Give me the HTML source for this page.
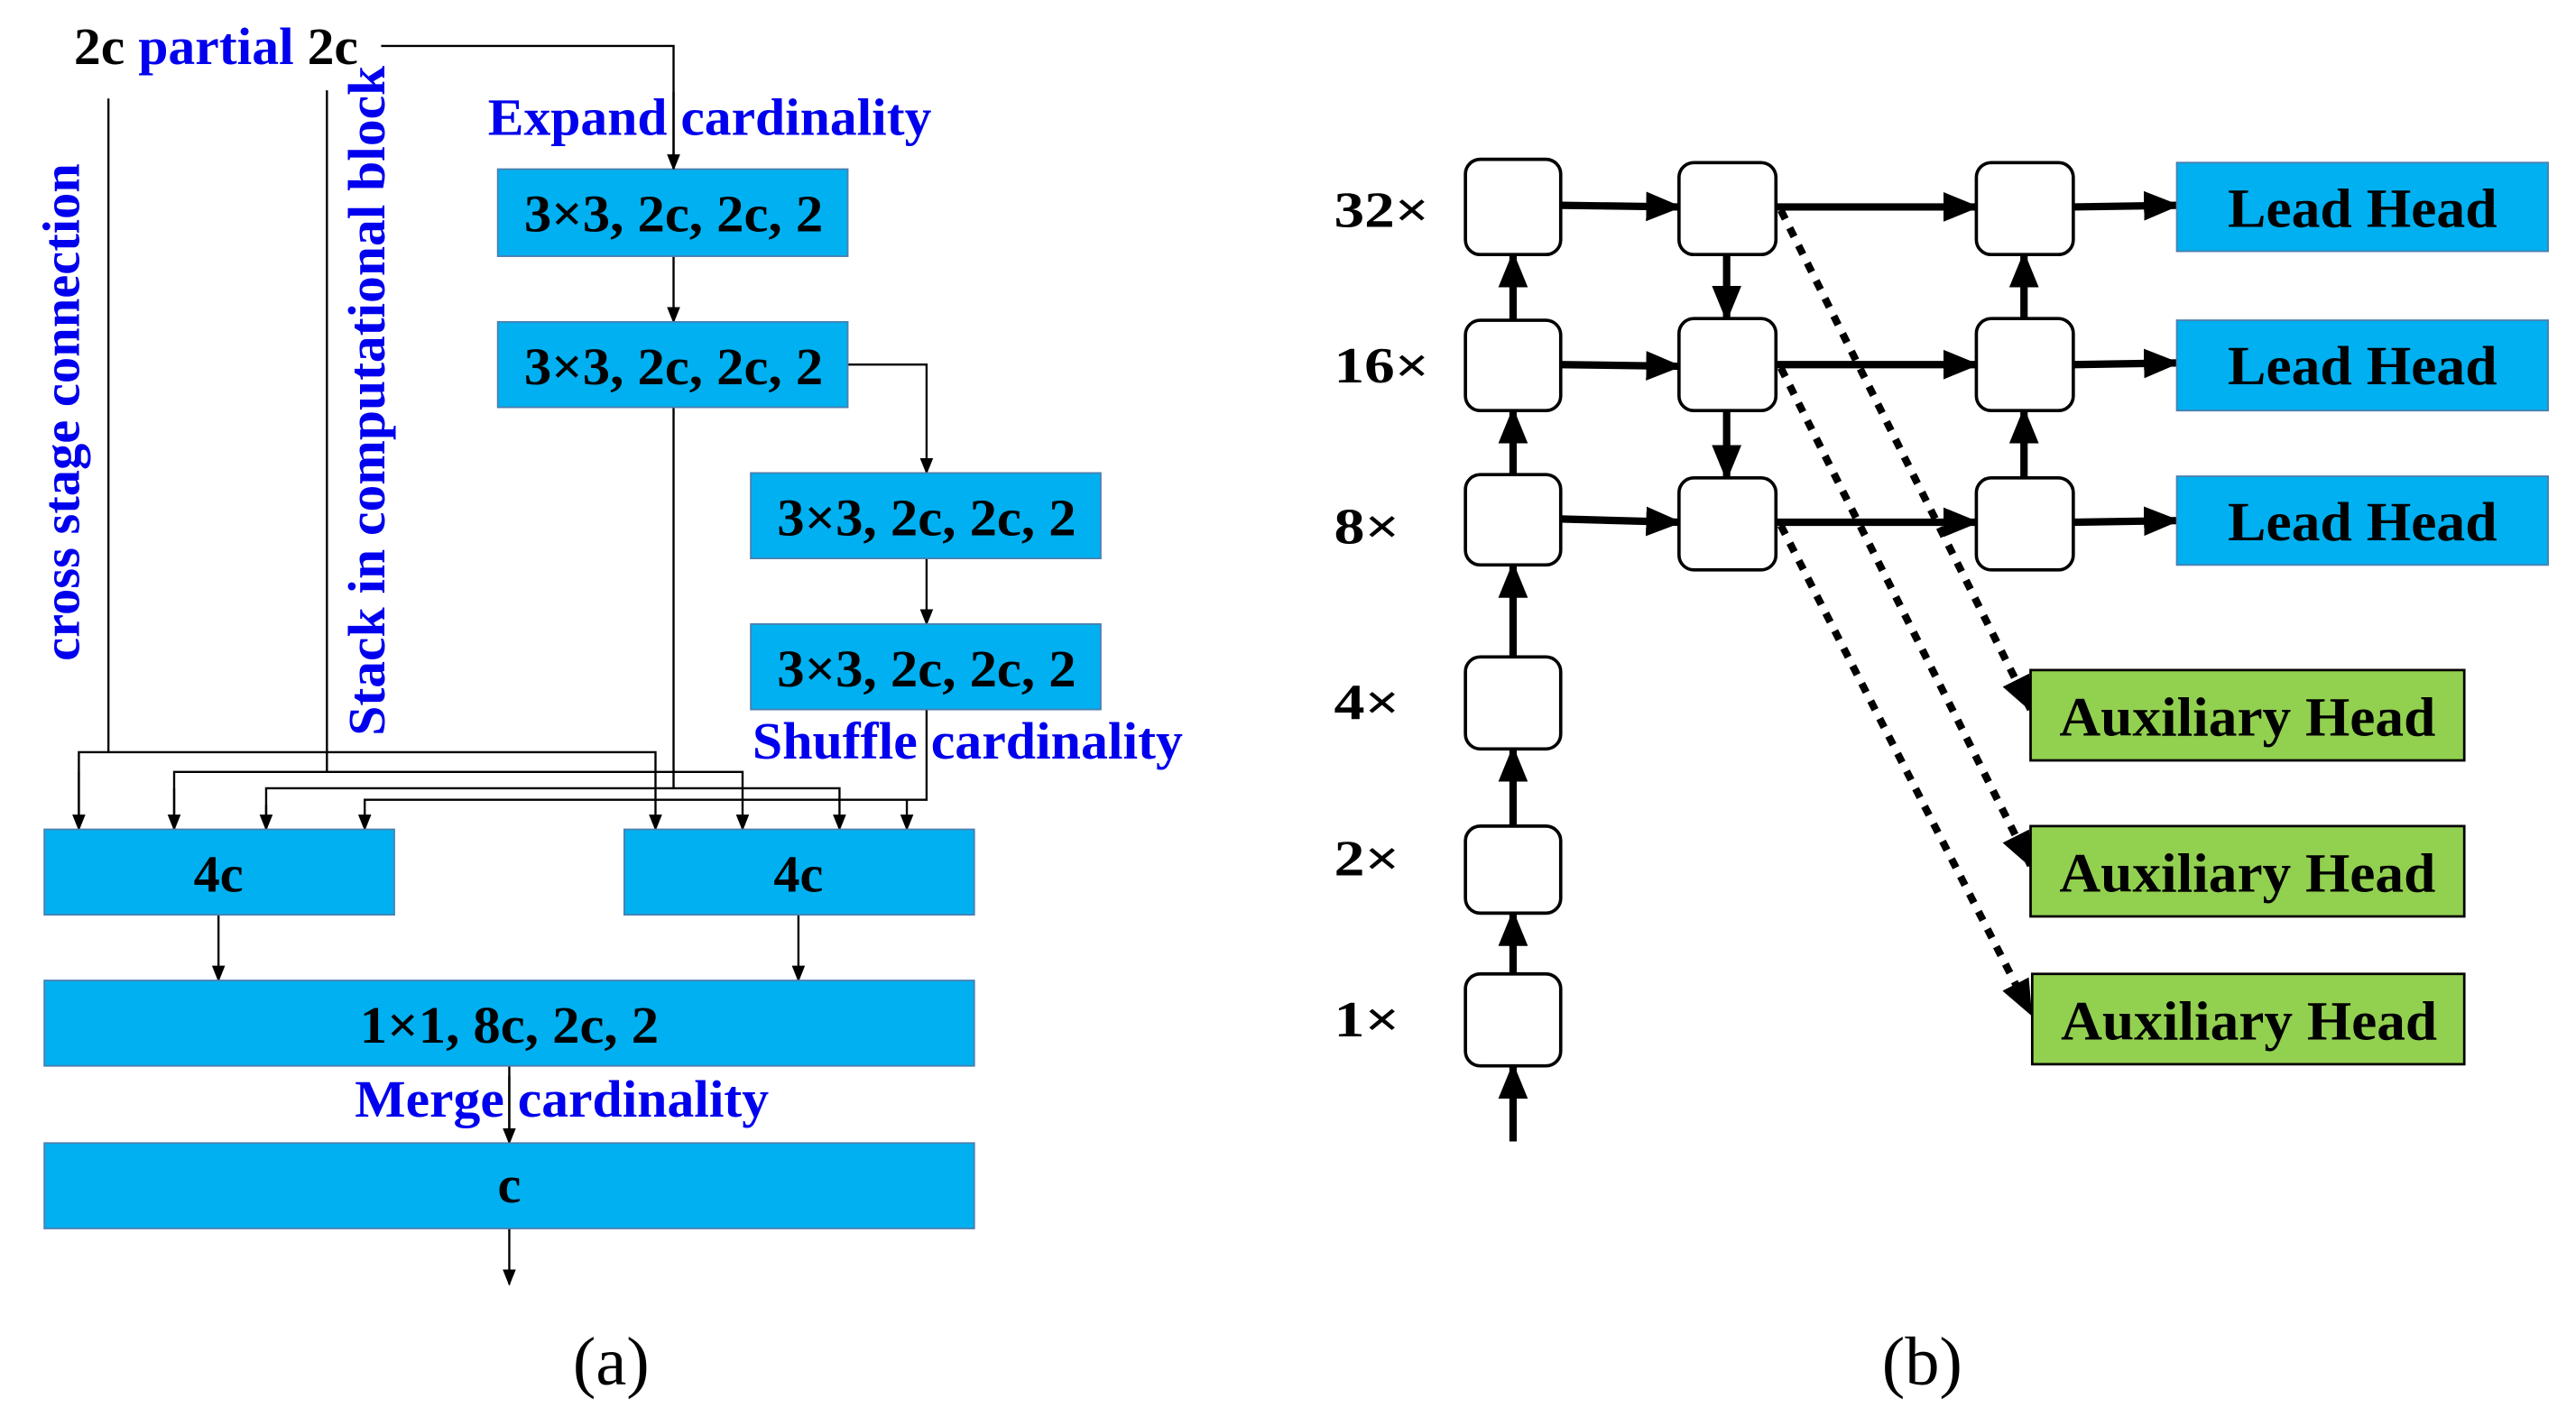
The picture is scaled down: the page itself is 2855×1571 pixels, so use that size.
<!DOCTYPE html>
<html><head><meta charset="utf-8"><style>
html,body{margin:0;padding:0;background:#fff;}
svg{display:block;}
text{font-family:"Liberation Serif",serif;font-weight:bold;}
</style></head><body>
<svg width="2855" height="1571" viewBox="0 0 1568 862.8" preserveAspectRatio="none" xmlns="http://www.w3.org/2000/svg">
<defs>
<marker id="a" markerWidth="10" markerHeight="10" refX="9" refY="5" orient="auto" markerUnits="userSpaceOnUse"><path d="M0,1 L10,5 L0,9 z" fill="#000"/></marker>
<marker id="b" markerWidth="22" markerHeight="22" refX="20" refY="11" orient="auto" markerUnits="userSpaceOnUse"><path d="M0,2 L22,11 L0,20 z" fill="#000"/></marker>
</defs>
<g fill="none" stroke="#000" stroke-width="1.3">
<polyline points="232,28 410,28 410,103" marker-end="url(#a)"/>
<line x1="410" y1="156" x2="410" y2="196" marker-end="url(#a)"/>
<polyline points="516,222 564,222 564,288" marker-end="url(#a)"/>
<line x1="564" y1="340" x2="564" y2="380" marker-end="url(#a)"/>
<line x1="66" y1="60" x2="66" y2="458"/>
<line x1="199" y1="55" x2="199" y2="470"/>
<line x1="410" y1="248" x2="410" y2="480"/>
<polyline points="564,432 564,487 552,487"/>
<polyline points="48,505 48,458 399,458 399,505" marker-end="url(#a)"/>
<line x1="48" y1="470" x2="48" y2="505" marker-end="url(#a)"/>
<polyline points="106,505 106,470 452,470 452,505" marker-end="url(#a)"/>
<line x1="106" y1="480" x2="106" y2="505" marker-end="url(#a)"/>
<polyline points="162,505 162,480 511,480 511,505" marker-end="url(#a)"/>
<line x1="162" y1="490" x2="162" y2="505" marker-end="url(#a)"/>
<polyline points="222,505 222,487 552,487 552,505" marker-end="url(#a)"/>
<line x1="222" y1="495" x2="222" y2="505" marker-end="url(#a)"/>
<line x1="133" y1="557" x2="133" y2="597" marker-end="url(#a)"/>
<line x1="486" y1="557" x2="486" y2="597" marker-end="url(#a)"/>
<line x1="310" y1="649" x2="310" y2="696" marker-end="url(#a)"/>
<line x1="310" y1="748" x2="310" y2="782" marker-end="url(#a)"/>
</g>
<g fill="#00B0F0" stroke="#4a7fb0" stroke-width="1">
<rect x="303" y="103" width="213" height="53"/>
<rect x="303" y="196" width="213" height="52"/>
<rect x="457" y="288" width="213" height="52"/>
<rect x="457" y="380" width="213" height="52"/>
<rect x="27" y="505" width="213" height="52"/>
<rect x="380" y="505" width="213" height="52"/>
<rect x="27" y="597" width="566" height="52"/>
<rect x="27" y="696" width="566" height="52"/>
</g>
<g font-size="32" text-anchor="middle" fill="#000" lengthAdjust="spacingAndGlyphs">
<text x="410" y="141" textLength="182" lengthAdjust="spacingAndGlyphs">3×3, 2c, 2c, 2</text>
<text x="410" y="234" textLength="182" lengthAdjust="spacingAndGlyphs">3×3, 2c, 2c, 2</text>
<text x="564" y="326" textLength="182" lengthAdjust="spacingAndGlyphs">3×3, 2c, 2c, 2</text>
<text x="564" y="418" textLength="182" lengthAdjust="spacingAndGlyphs">3×3, 2c, 2c, 2</text>
<text x="133" y="543">4c</text>
<text x="486" y="543">4c</text>
<text x="310" y="635" textLength="182" lengthAdjust="spacingAndGlyphs">1×1, 8c, 2c, 2</text>
<text x="310" y="732">c</text>
</g>
<g font-size="32" fill="#0000EE">
<text x="45" y="39" textLength="173" lengthAdjust="spacingAndGlyphs"><tspan fill="#000">2c</tspan> partial <tspan fill="#000">2c</tspan></text>
<text x="297" y="82" textLength="270" lengthAdjust="spacingAndGlyphs">Expand cardinality</text>
<text x="458" y="462" textLength="262" lengthAdjust="spacingAndGlyphs">Shuffle cardinality</text>
<text x="216" y="680" textLength="252" lengthAdjust="spacingAndGlyphs">Merge cardinality</text>
<text transform="translate(48,251) rotate(-90)" text-anchor="middle" textLength="303" lengthAdjust="spacingAndGlyphs">cross stage connection</text>
<text transform="translate(234,244) rotate(-90)" text-anchor="middle" textLength="408" lengthAdjust="spacingAndGlyphs">Stack in computational block</text>
</g>
<line x1="410" y1="56" x2="410" y2="103" stroke="#000" stroke-width="1.3"/>
<line x1="310" y1="655" x2="310" y2="690" stroke="#000" stroke-width="1.3"/>
<text x="372" y="843" font-size="42" text-anchor="middle" style="font-weight:normal">(a)</text>
<text x="1170" y="843" font-size="42" text-anchor="middle" style="font-weight:normal">(b)</text>
<g font-size="31" fill="#000">
<text x="812" y="138" textLength="58" lengthAdjust="spacingAndGlyphs">32×</text>
<text x="812" y="233" textLength="58" lengthAdjust="spacingAndGlyphs">16×</text>
<text x="812" y="331" textLength="40" lengthAdjust="spacingAndGlyphs">8×</text>
<text x="812" y="438" textLength="40" lengthAdjust="spacingAndGlyphs">4×</text>
<text x="812" y="533" textLength="40" lengthAdjust="spacingAndGlyphs">2×</text>
<text x="812" y="631" textLength="40" lengthAdjust="spacingAndGlyphs">1×</text>
</g>
<g fill="none" stroke="#000" stroke-width="4.5">
<line x1="921" y1="695" x2="921" y2="649" marker-end="url(#b)"/>
<line x1="921" y1="593" x2="921" y2="556" marker-end="url(#b)"/>
<line x1="921" y1="503" x2="921" y2="456" marker-end="url(#b)"/>
<line x1="921" y1="400" x2="921" y2="344" marker-end="url(#b)"/>
<line x1="921" y1="289" x2="921" y2="250" marker-end="url(#b)"/>
<line x1="921" y1="195" x2="921" y2="155" marker-end="url(#b)"/>
<line x1="950" y1="125" x2="1022" y2="126" marker-end="url(#b)"/>
<line x1="950" y1="222" x2="1022" y2="223" marker-end="url(#b)"/>
<line x1="950" y1="316" x2="1022" y2="318" marker-end="url(#b)"/>
<line x1="1081" y1="126" x2="1203" y2="126" marker-end="url(#b)"/>
<line x1="1081" y1="222" x2="1203" y2="222" marker-end="url(#b)"/>
<line x1="1081" y1="318" x2="1203" y2="318" marker-end="url(#b)"/>
<line x1="1262" y1="126" x2="1325" y2="125" marker-end="url(#b)"/>
<line x1="1262" y1="222" x2="1325" y2="221" marker-end="url(#b)"/>
<line x1="1262" y1="318" x2="1325" y2="317" marker-end="url(#b)"/>
<line x1="1051" y1="155" x2="1051" y2="194" marker-end="url(#b)"/>
<line x1="1051" y1="250" x2="1051" y2="291" marker-end="url(#b)"/>
<line x1="1232" y1="194" x2="1232" y2="155" marker-end="url(#b)"/>
<line x1="1232" y1="291" x2="1232" y2="250" marker-end="url(#b)"/>
<g stroke-dasharray="6,6">
<line x1="1084" y1="128" x2="1236" y2="432" marker-end="url(#b)"/>
<line x1="1084" y1="224" x2="1236" y2="527" marker-end="url(#b)"/>
<line x1="1084" y1="320" x2="1236" y2="617" marker-end="url(#b)"/>
</g>
</g>
<g fill="#fff" stroke="#000" stroke-width="2">
<rect x="892" y="97" width="58" height="58" rx="9"/>
<rect x="892" y="195" width="58" height="55" rx="9"/>
<rect x="892" y="289" width="58" height="55" rx="9"/>
<rect x="892" y="400" width="58" height="56" rx="9"/>
<rect x="892" y="503" width="58" height="53" rx="9"/>
<rect x="892" y="593" width="58" height="56" rx="9"/>
<rect x="1022" y="99" width="59" height="56" rx="9"/>
<rect x="1022" y="194" width="59" height="56" rx="9"/>
<rect x="1022" y="291" width="59" height="56" rx="9"/>
<rect x="1203" y="99" width="59" height="56" rx="9"/>
<rect x="1203" y="194" width="59" height="56" rx="9"/>
<rect x="1203" y="291" width="59" height="56" rx="9"/>
</g>
<g fill="#00B0F0" stroke="#4a7fb0" stroke-width="1">
<rect x="1325" y="99" width="226" height="54"/>
<rect x="1325" y="195" width="226" height="55"/>
<rect x="1325" y="290" width="226" height="54"/>
</g>
<g fill="#92D050" stroke="#000" stroke-width="1.5">
<rect x="1236" y="408" width="264" height="55"/>
<rect x="1236" y="503" width="264" height="55"/>
<rect x="1237" y="593" width="263" height="55"/>
</g>
<g font-size="34" text-anchor="middle" fill="#000">
<text x="1438" y="138" textLength="164" lengthAdjust="spacingAndGlyphs">Lead Head</text>
<text x="1438" y="234" textLength="164" lengthAdjust="spacingAndGlyphs">Lead Head</text>
<text x="1438" y="329" textLength="164" lengthAdjust="spacingAndGlyphs">Lead Head</text>
<text x="1368" y="448" textLength="229" lengthAdjust="spacingAndGlyphs">Auxiliary Head</text>
<text x="1368" y="543" textLength="229" lengthAdjust="spacingAndGlyphs">Auxiliary Head</text>
<text x="1369" y="633" textLength="229" lengthAdjust="spacingAndGlyphs">Auxiliary Head</text>
</g>
</svg>
</body></html>
